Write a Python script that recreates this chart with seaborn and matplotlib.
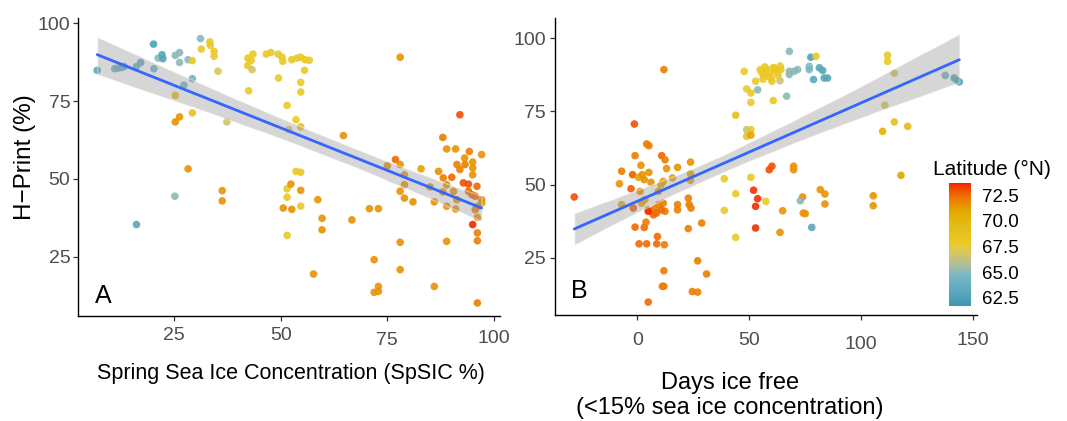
import numpy as np
import pandas as pd
import matplotlib
matplotlib.use("Agg")
import matplotlib.pyplot as plt
from matplotlib.colors import ListedColormap, Normalize
from matplotlib.cm import ScalarMappable
from matplotlib.transforms import ScaledTranslation
import seaborn as sns

sns.set_theme(style="ticks")
plt.rcParams["font.family"] = ["Liberation Sans", "DejaVu Sans"]

# ---- Panel A: H-Print vs spring sea ice concentration ----
spsic = [7.0, 11.1, 11.9, 12.7, 13.3, 16.2, 17.2, 20.2, 20.3, 21.3, 22.2, 22.4,
         25.3, 26.3, 26.3, 27.3, 28.3, 29.3, 29.3, 31.2, 31.4, 33.4, 33.5, 34.4,
         34.4, 35.3, 25.3, 29.3, 26.3, 25.3, 37.4, 28.3, 25.2, 36.3, 36.3, 16.2,
         42.3, 43.5, 43.1, 42.3, 43.3, 42.5, 46.6, 47.7, 49.4, 50.3, 50.5, 49.5,
         51.5, 51.9, 51.5, 51.5, 50.6, 52.6, 52.4, 51.5,
         52.6, 53.8, 54.7, 55.7, 56.7, 55.6, 54.7, 54.7, 53.6, 54.7, 53.6, 54.7,
         54.7, 54.7, 58.7, 59.7, 59.7, 57.7, 64.7, 66.7, 70.8, 72.9, 71.9, 71.9,
         72.9, 72.9, 78.0, 78.0, 78.0, 75.0, 76.9, 78.0, 79.0, 79.0, 78.0, 79.0,
         81.0, 82.9, 85.0, 86.0, 86.0, 87.0, 88.0, 88.1, 88.9, 88.9, 88.0, 88.9,
         90.1, 91.0, 92.0, 93.1, 94.2, 95.0, 97.1, 91.3, 92.0, 93.2, 95.0, 95.0,
         92.8, 94.0, 96.0, 88.9, 90.5, 91.3, 94.0, 94.8, 95.6, 97.1, 97.1, 96.3,
         95.6, 91.0, 96.1, 95.0, 96.1, 96.1, 96.1]
hprint_a = [84.9, 85.4, 85.6, 85.8, 86.1, 86.1, 87.4, 93.3, 85.4, 88.8, 89.9, 88.6,
            89.7, 90.6, 87.4, 80.1, 88.3, 82.2, 88.0, 95.1, 91.7, 94.0, 92.9, 91.0,
            89.4, 84.6, 76.8, 71.2, 69.9, 68.3, 68.3, 53.2, 44.4, 46.2, 42.9, 35.3,
            88.8, 90.1, 88.1, 86.4, 85.1, 78.3, 90.1, 90.6, 90.1, 89.1, 87.8, 82.4,
            73.6, 65.8, 46.8, 44.1, 40.6, 40.2, 48.3, 31.8,
            88.3, 88.8, 89.1, 88.3, 88.1, 84.9, 81.0, 77.9, 69.0, 66.7, 52.4, 52.1,
            46.3, 41.2, 43.3, 37.3, 33.6, 19.4, 63.9, 36.8, 40.4, 40.4, 24.0, 13.5,
            15.4, 13.8, 89.1, 29.6, 20.8, 54.2, 56.2, 54.6, 51.3, 48.1, 46.0, 43.8,
            42.6, 53.2, 47.4, 42.6, 15.4, 52.4, 63.3, 50.3, 59.6, 41.2, 45.8, 29.9,
            50.5, 59.6, 70.6, 56.7, 58.8, 55.4, 57.8, 54.6, 53.0, 54.6, 53.5, 51.3,
            48.7, 48.3, 47.6, 48.1, 46.0, 43.3, 46.0, 44.9, 44.4, 43.3, 42.2, 41.2,
            40.1, 40.3, 37.6, 35.3, 32.6, 30.1, 10.1]
lat_a = [63.0, 64.0, 64.0, 64.0, 64.0, 64.0, 63.5, 62.5, 64.0, 65.0, 63.0, 63.0,
         65.0, 65.0, 65.0, 64.5, 65.0, 64.5, 68.0, 65.0, 68.0, 68.0, 68.0, 68.0,
         68.0, 67.0, 69.5, 68.5, 71.5, 71.5, 66.8, 71.5, 65.0, 71.5, 71.5, 63.0,
         68.0, 68.0, 68.0, 68.0, 66.8, 68.0, 68.0, 68.0, 68.0, 68.0, 68.0, 68.0,
         68.0, 67.0, 68.0, 68.0, 71.5, 71.5, 71.5, 68.0,
         68.0, 68.0, 68.0, 68.0, 68.0, 68.0, 68.0, 68.0, 68.0, 69.0, 68.0, 68.0,
         71.5, 68.0, 71.5, 71.5, 71.5, 71.5, 71.5, 71.5, 71.5, 71.5, 71.5, 71.5,
         71.5, 71.5, 71.5, 71.5, 71.5, 71.5, 72.5, 71.5, 71.5, 71.5, 71.5, 71.5,
         71.5, 71.0, 71.5, 71.5, 71.5, 71.5, 72.0, 72.0, 71.5, 71.5, 71.5, 71.5,
         72.5, 71.5, 73.0, 71.5, 72.0, 71.5, 71.5, 72.0, 72.0, 72.0, 71.5, 71.5,
         73.0, 73.0, 72.5, 71.5, 71.5, 71.5, 72.5, 72.5, 72.5, 71.5, 71.5, 71.5,
         72.0, 71.5, 71.5, 73.6, 72.0, 72.0, 72.0]

# ---- Panel B: H-Print vs days ice free ----
days_free = [-28.2, -1.3, 11.9, 4.2, 5.2, -1.0, 10.9, 12.4, -7.0, 1.6, 5.2, -2.1,
             0.5, 2.2, 3.1, -8.0, -2.8, 6.1, 13.1, 18.0, 23.8, 15.7, 11.6, 10.6,
             9.4, 23.8, 23.8, 1.2, -7.0, -1.8, 1.9, 3.4, 4.9, 6.4, 7.9, 9.7,
             11.6, 12.4, 7.2, 8.6, 10.9, 4.9, 18.0, 18.0, 22.8, 23.2, 24.0, 28.8,
             22.8, -1.0, 3.1, 3.9, 0.8, 4.2, 9.0, 8.7, 12.1, 11.9, 11.2, 11.9,
             4.9, 27.0, 31.0, 24.6, 27.0, 38.9, 44.0, 38.9, 44.0, 44.0, 47.8, 48.9,
             50.8, 50.8, 52.9, 53.8, 48.9, 50.8, 48.9, 50.8, 50.8, 52.0, 53.8, 52.9,
             52.9, 57.5, 59.0, 60.2, 54.9, 56.4, 57.9, 59.4, 60.9, 62.4, 63.9, 60.2,
             64.2, 63.8, 60.8, 68.0, 68.0, 68.0, 70.2, 71.7, 66.8, 76.9, 76.9, 77.6,
             79.9, 81.4, 82.9, 83.6, 85.1, 78.8, 111.9, 111.9, 114.9, 110.7, 114.9, 120.9,
             109.7, 117.9, 105.5, 105.5, 137.7, 141.7, 143.2, 144.0, 69.9, 69.9, 65.0, 73.9,
             72.9, 74.2, 75.1, 81.8, 83.9, 83.9, 63.8, 78.0,
             55.6, 57.0, 58.6, 61.5, 59.8, 62.9, 56.2]
hprint_b = [45.8, 70.7, 89.3, 63.9, 63.3, 59.9, 59.9, 58.5, 54.6, 56.6, 54.2, 53.4,
            52.5, 53.4, 51.7, 50.3, 48.6, 50.8, 55.5, 55.9, 57.7, 52.3, 51.1, 50.0,
            47.7, 53.7, 51.5, 47.7, 43.2, 42.0, 43.7, 44.9, 41.4, 40.9, 42.0, 43.2,
            43.7, 40.9, 39.7, 40.3, 41.4, 40.9, 43.2, 41.4, 45.4, 43.2, 42.0, 36.9,
            35.0, 35.5, 35.4, 37.2, 29.8, 29.8, 32.3, 29.8, 29.5, 20.6, 15.3, 15.3,
            9.9, 24.0, 19.5, 13.5, 13.3, 52.0, 46.9, 41.2, 32.0, 73.7, 88.7, 82.7,
            81.3, 78.1, 85.3, 82.4, 68.8, 68.8, 66.5, 66.9, 52.5, 48.1, 45.2, 42.6,
            35.2, 44.3, 55.1, 56.3, 89.2, 87.5, 89.4, 88.2, 90.0, 88.8, 90.5, 85.3,
            89.3, 85.5, 78.7, 95.5, 88.7, 87.6, 88.7, 89.3, 80.2, 90.4, 89.3, 93.5,
            93.8, 89.9, 89.0, 86.4, 86.4, 85.9, 94.2, 92.1, 88.1, 77.1, 71.4, 69.9,
            68.2, 53.2, 46.2, 42.8, 87.3, 86.4, 85.5, 85.1, 56.3, 55.1, 41.1, 45.8,
            44.5, 40.3, 40.1, 48.3, 46.8, 43.4, 33.7, 35.4,
            88.4, 90.2, 87.0, 89.6, 86.6, 87.4, 86.0]
lat_b = [73.0, 73.0, 72.0, 72.0, 72.0, 72.0, 72.5, 72.0, 72.0, 71.5, 71.5, 72.8,
         71.0, 71.5, 71.5, 71.5, 72.8, 71.5, 71.5, 71.5, 71.5, 71.0, 71.0, 71.0,
         71.5, 71.0, 71.0, 71.5, 71.0, 72.8, 71.0, 71.0, 72.0, 72.0, 72.0, 72.0,
         72.0, 72.0, 72.5, 72.5, 72.5, 73.5, 72.0, 72.0, 72.0, 72.0, 72.0, 72.0,
         72.0, 72.5, 72.5, 72.0, 72.5, 72.5, 72.5, 72.5, 72.0, 72.0, 72.0, 72.0,
         72.5, 72.0, 72.0, 72.0, 72.0, 68.0, 68.0, 68.0, 68.0, 69.0, 68.0, 68.0,
         68.0, 68.0, 68.0, 65.0, 66.5, 68.0, 68.5, 71.0, 68.0, 73.5, 73.5, 73.5,
         73.5, 68.0, 73.0, 73.0, 68.0, 68.0, 68.0, 68.0, 68.0, 68.0, 68.0, 68.0,
         68.0, 66.5, 68.0, 65.0, 65.0, 65.0, 65.0, 65.0, 65.0, 65.0, 64.5, 62.5,
         68.0, 63.0, 63.0, 63.0, 63.0, 63.0, 68.0, 68.0, 66.8, 67.0, 69.0, 69.5,
         70.5, 71.0, 71.5, 71.5, 64.0, 63.0, 63.0, 63.0, 71.5, 71.5, 71.5, 71.5,
         65.0, 71.5, 71.5, 71.5, 71.5, 71.5, 71.5, 63.0,
         68.0, 68.0, 68.0, 68.0, 68.0, 68.0, 68.0]

lat_ticks = [62.5, 65.0, 67.5, 70.0, 72.5]
lat_tick_labels = ["62.5", "65.0", "67.5", "70.0", "72.5"]

df_a = pd.DataFrame({"SpSIC": spsic, "HPrint": hprint_a, "Latitude": lat_a})
df_b = pd.DataFrame({"DaysFree": days_free, "HPrint": hprint_b, "Latitude": lat_b})

# Zissou1 gradient, interpolated in CIELAB space
zissou = ["#3B9AB2", "#78B7C5", "#EBCC2A", "#E1AF00", "#F21A00"]
_M = np.array([[0.4124564, 0.3575761, 0.1804375],
               [0.2126729, 0.7151522, 0.0721750],
               [0.0193339, 0.1191920, 0.9503041]])
_WHITE = np.array([0.95047, 1.0, 1.08883])
_D = 6 / 29


def hex_to_lab(h):
    rgb = np.array([int(h[i:i + 2], 16) / 255 for i in (1, 3, 5)])
    lin = np.where(rgb <= 0.04045, rgb / 12.92, ((rgb + 0.055) / 1.055) ** 2.4)
    t = (_M @ lin) / _WHITE
    f = np.where(t > _D ** 3, np.cbrt(t), t / (3 * _D ** 2) + 4 / 29)
    return np.array([116 * f[1] - 16, 500 * (f[0] - f[1]), 200 * (f[1] - f[2])])


def lab_to_rgb(lab):
    fy = (lab[:, 0] + 16) / 116
    fx = fy + lab[:, 1] / 500
    fz = fy - lab[:, 2] / 200
    f = np.stack([fx, fy, fz], axis=1)
    t = np.where(f > _D, f ** 3, 3 * _D ** 2 * (f - 4 / 29)) * _WHITE
    lin = t @ np.linalg.inv(_M).T
    lin = np.clip(lin, 0, 1)
    rgb = np.where(lin <= 0.0031308, 12.92 * lin, 1.055 * lin ** (1 / 2.4) - 0.055)
    return np.clip(rgb, 0, 1)


_labs = np.array([hex_to_lab(c) for c in zissou])
_pos = np.linspace(0, 1, len(zissou))
_grid = np.linspace(0, 1, 256)
_lab_grid = np.stack([np.interp(_grid, _pos, _labs[:, k]) for k in range(3)], axis=1)
cmap = ListedColormap(lab_to_rgb(_lab_grid), name="zissou1_lab")
lat_norm = Normalize(61.7, 73.7)

W, H = 1067, 421
fig = plt.figure(figsize=(W / 100, H / 100), dpi=100)
ax_a = fig.add_axes([78 / W, 1 - 316 / H, 422 / W, 298 / H])
ax_b = fig.add_axes([555 / W, 1 - 315 / H, 422 / W, 297 / H])


def draw_panel(ax, df, xcol):
    sns.scatterplot(data=df, x=xcol, y="HPrint", hue="Latitude", palette=cmap,
                    hue_norm=lat_norm, s=30, alpha=0.9, linewidth=0,
                    legend=False, ax=ax, zorder=1)
    n_before = len(ax.collections)
    sns.regplot(data=df, x=xcol, y="HPrint", scatter=False, color="#3366FF",
                ci=95, n_boot=2000, seed=7, ax=ax,
                line_kws=dict(linewidth=2.0, zorder=3))
    for coll in ax.collections[n_before:]:
        coll.set_facecolor("#999999")
        coll.set_alpha(0.4)
        coll.set_zorder(2)
    ax.set_xlabel("")
    ax.set_ylabel("")
    for side in ("top", "right"):
        ax.spines[side].set_visible(False)
    for side in ("left", "bottom"):
        ax.spines[side].set_color("black")
        ax.spines[side].set_linewidth(1.0)
    ax.tick_params(axis="both", length=3.5, width=0.9, color="#333333",
                   labelcolor="#4D4D4D", labelsize=14)


draw_panel(ax_a, df_a, "SpSIC")
draw_panel(ax_b, df_b, "DaysFree")

ax_a.set_xlim(2.5, 101.4)
ax_a.set_ylim(5.9, 101.7)
ax_a.set_xticks([25, 50, 75, 100])
ax_a.set_yticks([25, 50, 75, 100])
ax_a.tick_params(axis="x", pad=4.5)
ax_a.tick_params(axis="y", pad=2)

ax_b.set_xlim(-36.8, 151.9)
ax_b.set_ylim(5.5, 106.9)
ax_b.set_xticks([0, 50, 100, 150])
ax_b.set_yticks([25, 50, 75, 100])
ax_b.tick_params(axis="x", pad=8.5)
ax_b.tick_params(axis="y", pad=3)


def nudge(labels, shifts):
    for lab, dy in zip(labels, shifts):
        if dy:
            lab.set_transform(lab.get_transform()
                              + ScaledTranslation(0, -dy / 72, fig.dpi_scale_trans))


nudge(ax_a.get_xticklabels(), [0, 0, 3.5, 2])
nudge(ax_b.get_xticklabels(), [0, 0, 3, 0])

ax_a.text(0.040, 0.043, "A", transform=ax_a.transAxes, fontsize=18,
          ha="left", va="baseline", color="black")
ax_b.text(0.038, 0.057, "B", transform=ax_b.transAxes, fontsize=18,
          ha="left", va="baseline", color="black")

fig.text(25 / W, 1 - 157 / H, "H\u2212Print (%)", rotation=90, ha="center",
         va="center", fontsize=17.5, color="black")
fig.text(290.5 / W, 1 - 379.3 / H, "Spring Sea Ice Concentration (SpSIC %)",
         ha="center", va="baseline", fontsize=15.5, color="black")
fig.text(730 / W, 1 - 414.3 / H, "Days ice free\n(<15% sea ice concentration)",
         ha="center", va="baseline", multialignment="center", fontsize=17,
         color="black")

# latitude colour bar
cax = fig.add_axes([949 / W, 1 - 306 / H, 22 / W, 123 / H])
cbar = fig.colorbar(ScalarMappable(norm=lat_norm, cmap=cmap), cax=cax,
                    ticks=lat_ticks)
cbar.outline.set_visible(False)
cbar.set_ticklabels(lat_tick_labels)
cax.yaxis.set_ticks_position("both")
cax.tick_params(direction="in", length=4, width=0.8, color="white",
                labelsize=13.5, labelcolor="black", labelleft=False,
                labelright=True, pad=8)
fig.text(933 / W, 1 - 175 / H, "Latitude (\u00b0N)", ha="left", va="baseline",
         fontsize=15, color="black")

fig.savefig("out.png", dpi=100)
